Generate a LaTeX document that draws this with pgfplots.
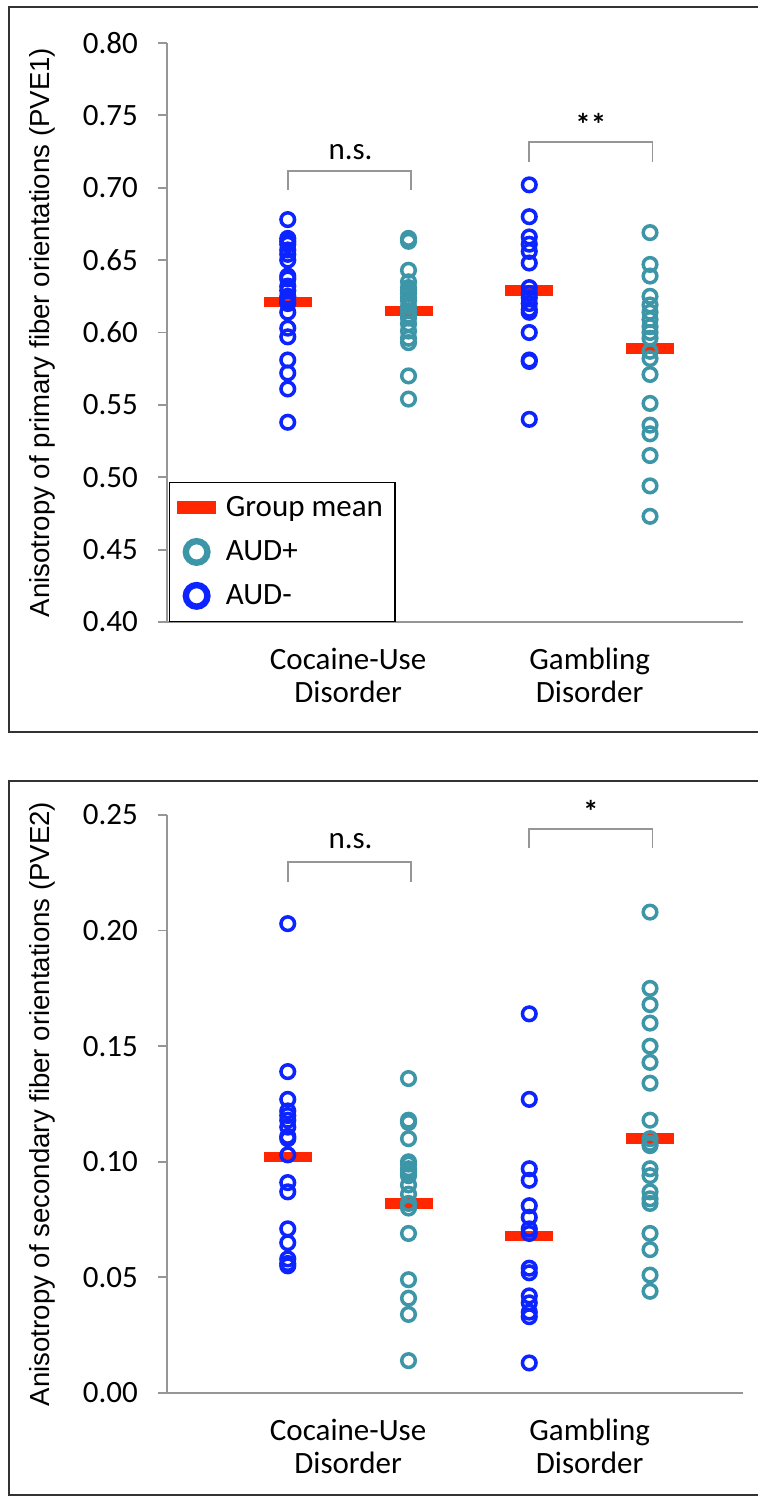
\documentclass[border=0pt]{standalone}
\usepackage{fontspec}
\setmainfont{Carlito}
\newfontfamily\arialfont{Liberation Sans}
\usepackage{pgfplots}
\pgfplotsset{compat=1.18}
\definecolor{audminus}{RGB}{12,36,255}
\definecolor{audplus}{RGB}{60,150,168}
\definecolor{meanred}{RGB}{255,38,0}
\definecolor{axgray}{RGB}{150,150,150}
\pgfdeclareplotmark{meanbar}{\pgfpathrectangle{\pgfpoint{-12pt}{-2.6pt}}{\pgfpoint{24pt}{5.2pt}}\pgfusepathqfill}
\pgfplotsset{
 panel/.style={
  scale only axis, width=288pt, anchor=south west,
  xmin=0, xmax=4.77,
  axis x line*=bottom, axis y line*=left,
  axis line style={axgray, line width=0.9pt},
  tick align=outside, major tick length=4.5pt,
  ytick style={axgray, line width=0.9pt},
  xtick={1.5,3.5}, xtick style={draw=none},
  xticklabels={Cocaine-Use\\Disorder, Gambling\\Disorder},
  xticklabel style={align=center, yshift=-5pt, font=\fontsize{15.5}{16.5}\selectfont},
  yticklabel style={xshift=-6.5pt, font=\fontsize{15.5}{18}\selectfont, /pgf/number format/.cd, fixed, fixed zerofill, precision=2, assume math mode=true},
  ylabel style={font=\arialfont\fontsize{13.8}{16}\selectfont, at={(axis description cs:-0.217,0.5)}, anchor=center},
  clip=false,
 },
 aneg/.style={only marks, mark=o, mark size=3.4pt, line width=1.75pt, audminus, forget plot},
 apos/.style={only marks, mark=o, mark size=3.4pt, line width=1.75pt, audplus, forget plot},
 amean/.style={only marks, mark=meanbar, meanred, forget plot},
}
\begin{document}
\begin{tikzpicture}
\useasboundingbox (0,0) rectangle (378.5pt,749.5pt);
\fill[white] (0,0) rectangle (378.5pt,749.5pt);
\draw[line width=1pt, black!80] (400pt,383.5pt) -- (4.5pt,383.5pt) -- (4.5pt,746pt) -- (400pt,746pt);
\draw[line width=1pt, black!80] (400pt,2pt) -- (4.5pt,2pt) -- (4.5pt,359pt) -- (400pt,359pt);

% ---------------- top panel ----------------
\begin{axis}[panel, at={(83.5pt,438.5pt)}, height=289.5pt,
  ymin=0.4, ymax=0.8, ytick={0.40,0.45,...,0.801},
  ylabel={Anisotropy of primary fiber orientations (PVE1)},
  legend style={at={(axis description cs:0.003,0)}, anchor=south west, draw=black, line width=0.7pt,
    font=\fontsize{15.5}{18}\selectfont, inner xsep=4pt, inner ysep=5pt, row sep=6.5pt, column sep=3pt},
  legend cell align=left]
\addlegendimage{legend image code/.code={\fill[meanred] (0pt,-2.9pt) rectangle (18.5pt,2.9pt);}}
\addlegendentry{Group mean}
\addlegendimage{legend image code/.code={\draw[audplus, line width=3.2pt] (9.25pt,0pt) circle (5.4pt);}}
\addlegendentry{AUD+}
\addlegendimage{legend image code/.code={\draw[audminus, line width=3.2pt] (9.25pt,0pt) circle (5.4pt);}}
\addlegendentry{AUD-}
\addplot[amean] coordinates {(1,0.621) (2,0.615) (3,0.629) (4,0.589)};
\addplot[aneg] coordinates {
(1,0.678) (1,0.665) (1,0.663) (1,0.661) (1,0.657) (1,0.654) (1,0.650) (1,0.639) (1,0.637)
(1,0.632) (1,0.629) (1,0.625) (1,0.622) (1,0.620) (1,0.614) (1,0.603) (1,0.597) (1,0.581)
(1,0.572) (1,0.561) (1,0.538)};
\addplot[apos] coordinates {
(2,0.665) (2,0.663) (2,0.643) (2,0.635) (2,0.631) (2,0.629) (2,0.627) (2,0.624) (2,0.622)
(2,0.618) (2,0.615) (2,0.612) (2,0.610) (2,0.606) (2,0.601) (2,0.596) (2,0.593) (2,0.570) (2,0.554)};
\addplot[aneg] coordinates {
(3,0.702) (3,0.680) (3,0.666) (3,0.661) (3,0.656) (3,0.648) (3,0.631) (3,0.627) (3,0.624)
(3,0.620) (3,0.616) (3,0.614) (3,0.600) (3,0.581) (3,0.580) (3,0.540)};
\addplot[apos] coordinates {
(4,0.669) (4,0.647) (4,0.639) (4,0.625) (4,0.619) (4,0.614) (4,0.609) (4,0.604) (4,0.600)
(4,0.596) (4,0.587) (4,0.582) (4,0.571) (4,0.551) (4,0.536) (4,0.530) (4,0.515) (4,0.494) (4,0.473)};
\draw[axgray, line width=0.9pt] (axis cs:1,0.6984) -- (axis cs:1,0.7118) -- (axis cs:2.02,0.7118) -- (axis cs:2.02,0.6984);
\draw[axgray, line width=0.9pt] (axis cs:3,0.718) -- (axis cs:3,0.7318) -- (axis cs:4.02,0.7318) -- (axis cs:4.02,0.718);
\node[font=\fontsize{15.5}{18}\selectfont] at (axis cs:1.52,0.7247) {n.s.};
\node[font=\bfseries\fontsize{15.5}{18}\selectfont] at (axis cs:3.51,0.744) {**};
\end{axis}

% ---------------- bottom panel ----------------
\begin{axis}[panel, at={(83.5pt,53pt)}, height=289pt,
  ymin=0, ymax=0.25, ytick={0,0.05,...,0.251},
  ylabel={Anisotropy of secondary fiber orientations (PVE2)}]
\addplot[amean] coordinates {(1,0.102) (2,0.082) (3,0.068) (4,0.110)};
\addplot[aneg] coordinates {
(1,0.203) (1,0.139) (1,0.127) (1,0.122) (1,0.120) (1,0.118) (1,0.115) (1,0.111) (1,0.110)
(1,0.103) (1,0.091) (1,0.087) (1,0.071) (1,0.065) (1,0.058) (1,0.056) (1,0.055)};
\addplot[apos] coordinates {
(2,0.136) (2,0.118) (2,0.117) (2,0.110) (2,0.100) (2,0.099) (2,0.097) (2,0.096) (2,0.095)
(2,0.094) (2,0.090) (2,0.086) (2,0.082) (2,0.080) (2,0.069) (2,0.049) (2,0.041) (2,0.034) (2,0.014)};
\addplot[aneg] coordinates {
(3,0.164) (3,0.127) (3,0.097) (3,0.092) (3,0.081) (3,0.076) (3,0.071) (3,0.069) (3,0.054)
(3,0.052) (3,0.042) (3,0.039) (3,0.035) (3,0.033) (3,0.013)};
\addplot[apos] coordinates {
(4,0.208) (4,0.175) (4,0.168) (4,0.160) (4,0.150) (4,0.143) (4,0.134) (4,0.118) (4,0.110)
(4,0.108) (4,0.107) (4,0.097) (4,0.094) (4,0.087) (4,0.084) (4,0.082) (4,0.069) (4,0.062)
(4,0.051) (4,0.044)};
\draw[axgray, line width=0.9pt] (axis cs:1,0.221) -- (axis cs:1,0.2298) -- (axis cs:2.02,0.2298) -- (axis cs:2.02,0.221);
\draw[axgray, line width=0.9pt] (axis cs:3,0.2356) -- (axis cs:3,0.2439) -- (axis cs:4.02,0.2439) -- (axis cs:4.02,0.2356);
\node[font=\fontsize{15.5}{18}\selectfont] at (axis cs:1.52,0.2385) {n.s.};
\node[font=\bfseries\fontsize{15.5}{18}\selectfont] at (axis cs:3.51,0.2514) {*};
\end{axis}
\end{tikzpicture}
\end{document}
